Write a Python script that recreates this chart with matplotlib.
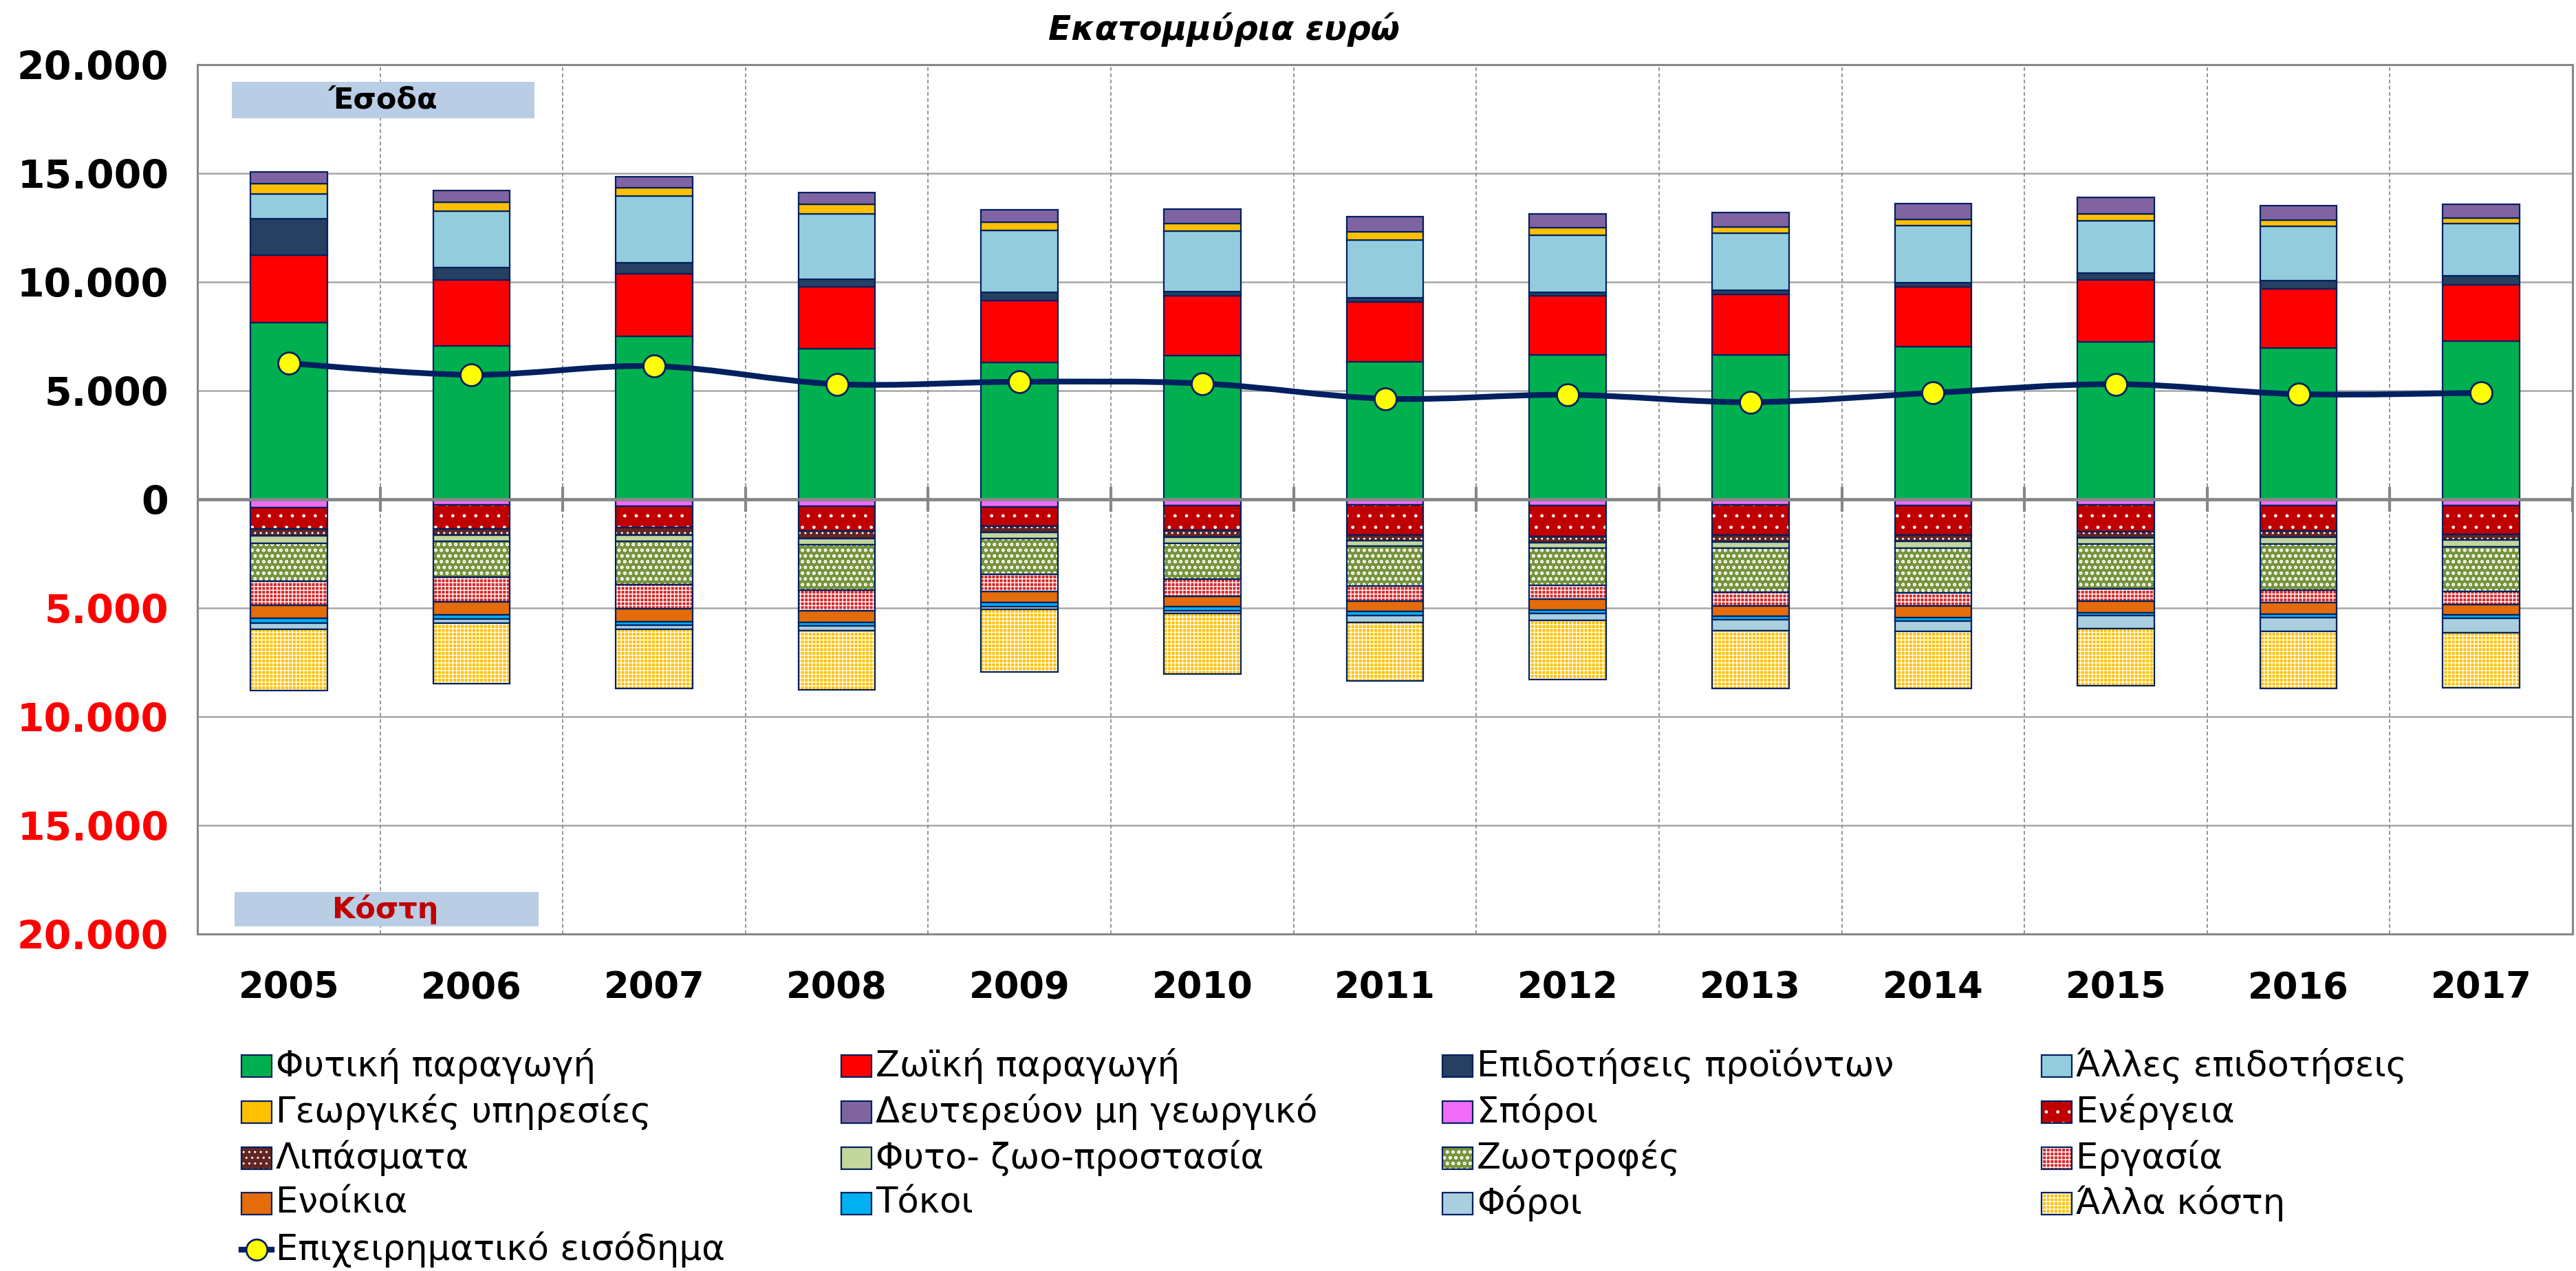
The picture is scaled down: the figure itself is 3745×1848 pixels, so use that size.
import numpy as np
import matplotlib
matplotlib.use('Agg')
import matplotlib.pyplot as plt
from matplotlib.patches import Rectangle, PathPatch
from matplotlib.path import Path
from matplotlib.lines import Line2D

plt.rcParams['font.family'] = ['DejaVu Sans']
plt.rcParams['hatch.linewidth'] = 1.0

# ---- data (million euro) ----
years = ['2005', '2006', '2007', '2008', '2009', '2010', '2011',
         '2012', '2013', '2014', '2015', '2016', '2017']

# income (stacked upwards)
plant = [8140, 7050, 7490, 6920, 6310, 6600, 6340, 6630, 6640, 7010, 7250, 6960, 7280]
animal = [3100, 3040, 2890, 2860, 2850, 2760, 2730, 2730, 2790, 2760, 2830, 2730, 2600]
prod_subs = [1680, 590, 510, 350, 350, 190, 190, 175, 175, 190, 335, 365, 400]
other_subs = [1140, 2590, 3050, 3000, 2870, 2780, 2680, 2620, 2635, 2620, 2410, 2510, 2395]
services = [480, 410, 385, 450, 375, 375, 365, 335, 290, 290, 300, 270, 255]
secondary = [520, 520, 510, 525, 580, 640, 700, 655, 655, 750, 765, 690, 655]

# costs (stacked downwards)
seeds = [370, 265, 320, 305, 350, 285, 255, 270, 255, 270, 255, 270, 270]
energy = [980, 1090, 990, 1135, 885, 1140, 1390, 1450, 1405, 1375, 1230, 1200, 1340]
fertilisers = [340, 275, 320, 365, 295, 315, 240, 270, 305, 285, 285, 285, 255]
protection = [350, 295, 305, 270, 275, 275, 270, 270, 270, 305, 285, 305, 305]
feed = [1730, 1665, 2000, 2090, 1645, 1655, 1820, 1695, 2030, 2060, 2045, 2110, 2075]
labour = [1110, 1140, 1085, 960, 800, 780, 705, 640, 625, 625, 590, 590, 590]
rents = [600, 600, 625, 525, 505, 495, 480, 495, 495, 510, 525, 525, 495]
interest = [210, 170, 160, 160, 180, 170, 175, 160, 160, 175, 145, 160, 145]
taxes = [305, 200, 190, 225, 135, 150, 320, 305, 495, 480, 590, 640, 655]
other_costs = [2815, 2795, 2700, 2730, 2860, 2775, 2715, 2745, 2665, 2605, 2620, 2605, 2555]

# business income (line)
income = [6260, 5730, 6130, 5300, 5410, 5330, 4630, 4810, 4470, 4900, 5300, 4840, 4900]

income_labels = ['Φυτική παραγωγή', 'Ζωϊκή παραγωγή', 'Επιδοτήσεις προϊόντων',
                 'Άλλες επιδοτήσεις', 'Γεωργικές υπηρεσίες', 'Δευτερεύον μη γεωργικό']
cost_labels = ['Σπόροι', 'Ενέργεια', 'Λιπάσματα', 'Φυτο- ζωο-προστασία', 'Ζωοτροφές',
               'Εργασία', 'Ενοίκια', 'Τόκοι', 'Φόροι', 'Άλλα κόστη']
line_label = 'Επιχειρηματικό εισόδημα'

# ---- styles ----
navy = '#002060'
grey = '#878787'
styles = {
    'Φυτική παραγωγή': ('#00B050', None),
    'Ζωϊκή παραγωγή': ('#FF0000', None),
    'Επιδοτήσεις προϊόντων': ('#254061', None),
    'Άλλες επιδοτήσεις': ('#93CDDD', None),
    'Γεωργικές υπηρεσίες': ('#FFC000', None),
    'Δευτερεύον μη γεωργικό': ('#8064A2', None),
    'Σπόροι': ('#F06CF6', None),
    'Ενέργεια': ('#C00000', '.'),
    'Λιπάσματα': ('#632523', '..'),
    'Φυτο- ζωο-προστασία': ('#C3D69B', None),
    'Ζωοτροφές': ('#77933C', 'oo'),
    'Εργασία': ('#D42828', '+++'),
    'Ενοίκια': ('#E46C0A', None),
    'Τόκοι': ('#00B0F0', None),
    'Φόροι': ('#A9CEDE', None),
    'Άλλα κόστη': ('#FFC000', '+++'),
}

W, H = 3745, 1848
fig = plt.figure(figsize=(W / 100, H / 100), dpi=100)
ax = fig.add_axes([287 / W, 1 - 1358 / H, (3740 - 287) / W, (1358 - 94) / H])

x = np.arange(len(years))
bw = 0.42


def draw_stack(labels, series, sign):
    base = np.zeros(len(years))
    for lab, vals in zip(labels, series):
        fc, hatch = styles[lab]
        v = sign * np.asarray(vals, dtype=float)
        if hatch:
            ax.bar(x, v, bw, bottom=base, color=fc, hatch=hatch,
                   edgecolor='white', linewidth=0, zorder=3)
            ax.bar(x, v, bw, bottom=base, fill=False, edgecolor=navy,
                   linewidth=1.6, zorder=3.5)
        else:
            ax.bar(x, v, bw, bottom=base, color=fc, edgecolor=navy,
                   linewidth=1.6, zorder=3)
        base += v


draw_stack(income_labels, [plant, animal, prod_subs, other_subs, services, secondary], 1)
draw_stack(cost_labels, [seeds, energy, fertilisers, protection, feed, labour,
                         rents, interest, taxes, other_costs], -1)

# smoothed income line (Excel style)
pts = np.column_stack([x, income]).astype(float)
verts, codes = [pts[0]], [Path.MOVETO]
n = len(pts)
for i in range(n - 1):
    p0, p1 = pts[max(i - 1, 0)], pts[i]
    p2, p3 = pts[i + 1], pts[min(i + 2, n - 1)]
    verts += [p1 + (p2 - p0) / 6, p2 - (p3 - p1) / 6, p2]
    codes += [Path.CURVE4] * 3
ax.add_patch(PathPatch(Path(verts, codes), fill=False, edgecolor=navy, lw=6, zorder=6))
ax.plot(x, income, 'o', ms=23, mfc='#FFFF00', mec=navy, mew=2, ls='none', zorder=7)

# axes / grid
ax.set_xlim(-0.5, len(years) - 0.5)
ax.set_ylim(-20000, 20000)
yt = np.arange(-20000, 20001, 5000)
ax.set_yticks(yt)
ax.set_yticklabels([f'{abs(v):,}'.replace(',', '.') for v in yt])
for v, lbl in zip(yt, ax.get_yticklabels()):
    lbl.set_color('#FF0000' if v < 0 else 'black')
    lbl.set_fontweight('bold')
ax.set_xticks(x)
ax.set_xticklabels(years, fontweight='bold')
ax.tick_params(axis='y', length=0, pad=30, labelsize=41)
ax.tick_params(axis='x', length=0, pad=38, labelsize=38)
ax.yaxis.grid(True, color='#A6A6A6', lw=1.8)
ax.set_axisbelow(True)
bounds = np.arange(len(years) + 1) - 0.5
ax.vlines(bounds[1:-1], -20000, 20000, colors='#8C8C8C', linestyles=(0, (3, 2)),
          lw=1.3, zorder=1)
ax.axhline(0, color=grey, lw=3.5, zorder=4.5)
ax.vlines(bounds, -560, 560, colors=grey, lw=3, zorder=4.5)
for s in ax.spines.values():
    s.set_color(grey)
    s.set_linewidth(2.2)

# section labels
ax.add_patch(Rectangle((0.0145, 0.938), 0.1275, 0.042, transform=ax.transAxes,
                       fc='#B9CDE5', ec='none', zorder=8))
ax.text(0.078, 0.959, 'Έσοδα', transform=ax.transAxes, ha='center', va='center',
        fontsize=31, fontweight='bold', zorder=9)
ax.add_patch(Rectangle((0.0156, 0.0087), 0.128, 0.0395, transform=ax.transAxes,
                       fc='#B9CDE5', ec='none', zorder=8))
ax.text(0.079, 0.028, 'Κόστη', transform=ax.transAxes, ha='center', va='center',
        fontsize=31, fontweight='bold', color='#C00000', zorder=9)

fig.text(1779 / W, 1 - 43 / H, 'Εκατομμύρια ευρώ', ha='center', va='center',
         fontsize=35, fontweight='bold', fontstyle='italic')

# legend laid out row by row like the original
legend_rows = [
    ['Φυτική παραγωγή', 'Ζωϊκή παραγωγή', 'Επιδοτήσεις προϊόντων', 'Άλλες επιδοτήσεις'],
    ['Γεωργικές υπηρεσίες', 'Δευτερεύον μη γεωργικό', 'Σπόροι', 'Ενέργεια'],
    ['Λιπάσματα', 'Φυτο- ζωο-προστασία', 'Ζωοτροφές', 'Εργασία'],
    ['Ενοίκια', 'Τόκοι', 'Φόροι', 'Άλλα κόστη'],
    [line_label],
]
col_x = [351, 1223, 2097, 2968]
row_y = [1550, 1617, 1684, 1750, 1817]
sw, sh = 44, 32
for r, row in enumerate(legend_rows):
    yc = 1 - row_y[r] / H
    for c, lab in enumerate(row):
        x0 = col_x[c] / W
        if lab == line_label:
            fig.add_artist(Line2D([x0, x0 + sw / W], [yc, yc], color=navy, lw=6))
            fig.add_artist(Line2D([x0 + sw / 2 / W], [yc], marker='o', ms=22,
                                  mfc='#FFFF00', mec=navy, mew=2))
        else:
            fc, hatch = styles[lab]
            rect = (x0, yc - sh / 2 / H)
            if hatch:
                fig.add_artist(Rectangle(rect, sw / W, sh / H, fc=fc, hatch=hatch,
                                         ec='white', lw=0, transform=fig.transFigure))
                fig.add_artist(Rectangle(rect, sw / W, sh / H, fill=False, ec=navy,
                                         lw=1.6, transform=fig.transFigure))
            else:
                fig.add_artist(Rectangle(rect, sw / W, sh / H, fc=fc, ec=navy,
                                         lw=1.6, transform=fig.transFigure))
        fig.text(x0 + (sw + 6) / W, yc, lab, ha='left', va='center', fontsize=37)

fig.savefig('out.png', dpi=100)
